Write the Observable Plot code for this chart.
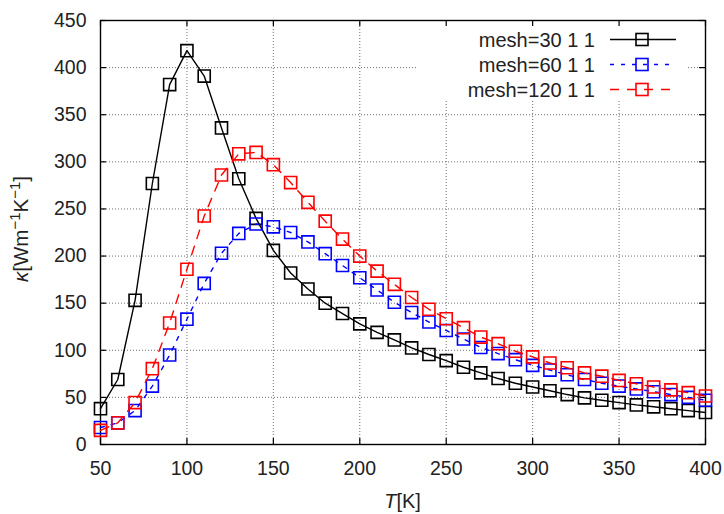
<!DOCTYPE html>
<html><head><meta charset="utf-8">
<script src="https://cdn.jsdelivr.net/npm/d3@7"></script>
<script src="https://cdn.jsdelivr.net/npm/@observablehq/plot@0.6"></script>
<style>
body{margin:0;background:#fff;}
#chart{width:724px;height:514px;}
</style></head><body><div id="chart"></div>
<script>
const temps = [50,60,70,80,90,100,110,120,130,140,150,160,170,180,190,200,210,220,230,240,250,260,270,280,290,300,310,320,330,340,350,360,370,380,390,400];
const kappa30 = [38,69,153,277,382,418,391,336,282,240,206,182,165,150,139,128,119,111,102.5,95.5,89,82,76,70,65,61,57,53,49.5,47,44.5,42,40,38,36,34];
const kappa60 = [18,23,36,62,95,133,171,203,224,234,231,225,215,202.5,190,177,164,151,140,130,121,112,103,96.5,90,84,79,74,69,65,62,59,56,53,50,47];
const kappa120 = [15,23,44.5,80.5,129,186,242.5,286,308.5,310,297,278,257,237,218,200,184,170,156,143.5,133.5,124,114,107,99,93,86.5,81.5,76,72.5,68,64.5,61,58,55,51.5];
const seriesNames = ["mesh=30 1 1","mesh=60 1 1","mesh=120 1 1"];
const seriesColors = ["#000000","#0000ff","#ff0000"];
const seriesDash = [null,"4,7","9,8"];
const xTicks = [50,100,150,200,250,300,350,400];
const yTicks = [0,50,100,150,200,250,300,350,400,450];

const seriesValues = [kappa30, kappa60, kappa120];
const W = 724, H = 514, mL = 100, mR = 19, mT = 20, mB = 70;
const plotW = W - mL - mR, plotH = H - mT - mB;
const FONT = "'Liberation Sans', Arial, Helvetica, sans-serif";
const TEXT = "#222";

const seriesMarks = [];
seriesValues.forEach((vals, s) => {
  const rows = temps.map((t, i) => ({T: t, k: vals[i], series: seriesNames[s]}));
  seriesMarks.push(Plot.line(rows, {x: "T", y: "k", stroke: seriesColors[s], strokeWidth: 1.4, strokeDasharray: seriesDash[s] || undefined}));
  seriesMarks.push(Plot.dot(rows, {x: "T", y: "k", stroke: seriesColors[s], symbol: "square", r: 6.8, strokeWidth: 1.6, fill: "none"}));
});

const gridStyle = {stroke: "#555", strokeWidth: 1, strokeDasharray: "1,2", strokeOpacity: 0.85};
const chart = Plot.plot({
  width: W, height: H,
  marginLeft: mL, marginRight: mR, marginTop: mT, marginBottom: mB,
  style: {fontFamily: FONT, fontSize: "19.5px", color: TEXT, background: "#fff"},
  x: {domain: [50, 400], ticks: xTicks, tickSize: 0, tickPadding: 17, label: null},
  y: {domain: [0, 450], ticks: yTicks, tickSize: 0, tickPadding: 14, label: null},
  marks: [
    Plot.ruleX(xTicks, {x: d => d, ...gridStyle}),
    Plot.ruleY(yTicks, {y: d => d, ...gridStyle}),
    Plot.frame({stroke: "#000", strokeWidth: 1.4, ariaLabel: "frame"}),
    Plot.ruleX(xTicks, {x: d => d, insetTop: plotH - 6, stroke: "#000", strokeWidth: 1.2}),
    Plot.ruleX(xTicks, {x: d => d, insetBottom: plotH - 6, stroke: "#000", strokeWidth: 1.2}),
    Plot.ruleY(yTicks, {y: d => d, insetRight: plotW - 6, stroke: "#000", strokeWidth: 1.2}),
    Plot.ruleY(yTicks, {y: d => d, insetLeft: plotW - 6, stroke: "#000", strokeWidth: 1.2}),
    ...seriesMarks
  ]
});
document.getElementById("chart").appendChild(chart);

const svg = d3.select(chart);
// legend background (covers grid, below frame and ticks)
const frameNode = svg.select('[aria-label="frame"]').node();
const bg = document.createElementNS("http://www.w3.org/2000/svg", "rect");
bg.setAttribute("x", 416); bg.setAttribute("y", 21);
bg.setAttribute("width", 271); bg.setAttribute("height", 79);
bg.setAttribute("fill", "#fff");
frameNode.parentNode.insertBefore(bg, frameNode);

// legend entries
const lg = svg.append("g").attr("font-family", FONT).attr("font-size", "20px");
seriesNames.forEach((name, s) => {
  const cy = 39.5 + s * 25;
  lg.append("text").attr("x", 595).attr("y", cy + 7).attr("text-anchor", "end").attr("fill", TEXT).text(name);
  lg.append("line").attr("x1", 610).attr("x2", 676).attr("y1", cy).attr("y2", cy)
    .attr("stroke", seriesColors[s]).attr("stroke-width", 1.4)
    .attr("stroke-dasharray", seriesDash[s] || null);
  lg.append("rect").attr("x", 642 - 6).attr("y", cy - 6).attr("width", 12).attr("height", 12)
    .attr("fill", "none").attr("stroke", seriesColors[s]).attr("stroke-width", 1.6);
});

// axis labels
const xl = svg.append("text").attr("x", mL + plotW / 2).attr("y", 508).attr("text-anchor", "middle")
  .attr("font-family", FONT).attr("font-size", "20px").attr("fill", TEXT);
xl.append("tspan").attr("font-style", "italic").text("T");
xl.append("tspan").text("[K]");

const yl = svg.append("text").attr("transform", "translate(28,229) rotate(-90)").attr("text-anchor", "middle")
  .attr("font-family", FONT).attr("font-size", "20.5px").attr("fill", TEXT);
yl.append("tspan").attr("font-style", "italic").text("κ");
yl.append("tspan").text("[Wm");
yl.append("tspan").attr("dy", -8).attr("font-size", "15px").text("−1");
yl.append("tspan").attr("dy", 8).text("K");
yl.append("tspan").attr("dy", -8).attr("font-size", "15px").text("−1");
yl.append("tspan").attr("dy", 8).text("]");
</script>
</body></html>
